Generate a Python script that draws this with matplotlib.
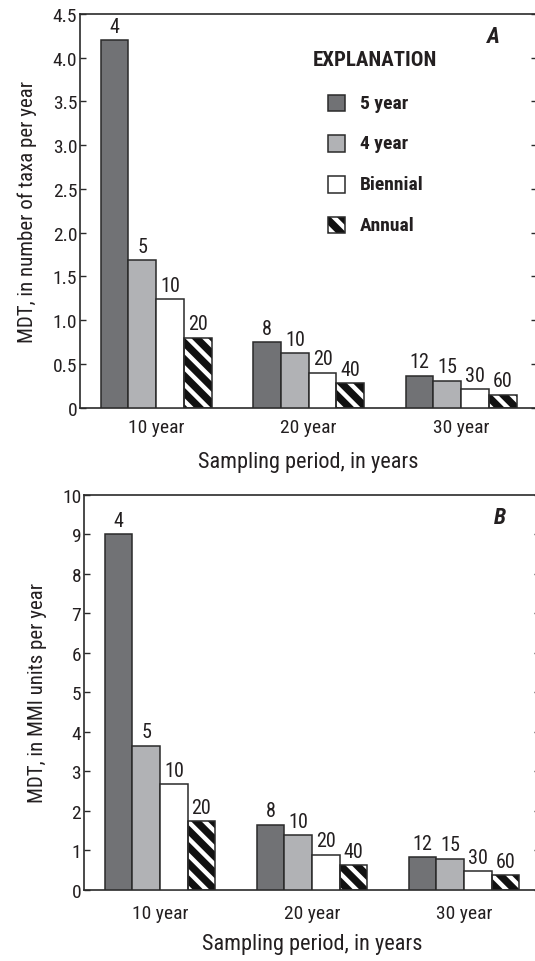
import matplotlib
matplotlib.use("Agg")
import matplotlib.pyplot as plt
from matplotlib import font_manager
from matplotlib.patches import Rectangle
import numpy as np

# ---- data -------------------------------------------------------------
periods = ["10 year", "20 year", "30 year"]
designs = ["5 year", "4 year", "Biennial", "Annual"]

# MDT, number of taxa per year (panel A)
taxa_5yr = [4.20, 0.754, 0.366]
taxa_4yr = [1.69, 0.625, 0.309]
taxa_bien = [1.24, 0.40, 0.21]
taxa_annual = [0.80, 0.279, 0.149]

# MDT, MMI units per year (panel B)
mmi_5yr = [9.0, 1.65, 0.83]
mmi_4yr = [3.65, 1.38, 0.79]
mmi_bien = [2.68, 0.89, 0.48]
mmi_annual = [1.73, 0.63, 0.36]

# number of samples behind each bar
n_5yr = [4, 8, 12]
n_4yr = [5, 10, 15]
n_bien = [10, 20, 30]
n_annual = [20, 40, 60]

taxa_ticks = [0, 0.5, 1.0, 1.5, 2.0, 2.5, 3.0, 3.5, 4.0, 4.5]
taxa_ticklabels = ["0", "0.5", "1.0", "1.5", "2.0", "2.5", "3.0", "3.5", "4.0", "4.5"]
mmi_ticks = list(range(0, 11))

# ---- style ------------------------------------------------------------
def pick_font():
    names = {f.name for f in font_manager.fontManager.ttflist}
    for cand in ["Liberation Sans Narrow", "Roboto Condensed", "Open Sans Condensed",
                 "Liberation Sans", "DejaVu Sans"]:
        if cand in names:
            return cand
    return "DejaVu Sans"

FONT = pick_font()
plt.rcParams["font.family"] = [FONT, "DejaVu Sans"]
plt.rcParams["hatch.linewidth"] = 3.2

INK = "#231f20"
EDGE = "#2a2a2a"
face = ["#717275", "#b1b2b5", "#ffffff", "#111111"]
hatches = [None, None, None, "\\\\"]

fig = plt.figure(figsize=(5.35, 9.62), dpi=100)
ax_a = fig.add_axes([0.1495, 0.5752, 0.8551, 0.4093])
ax_b = fig.add_axes([0.1570, 0.0741, 0.8523, 0.4106])

width = 0.182
offsets = (np.arange(4) - 1.5) * width
x = np.arange(len(periods))


def draw_bars(ax, series, counts):
    for i, (vals, cnt) in enumerate(zip(series, counts)):
        xs = x + offsets[i]
        if hatches[i]:
            ax.bar(xs, vals, width, facecolor=face[i], edgecolor="white",
                   hatch=hatches[i], linewidth=0, zorder=2)
            ax.bar(xs, vals, width, facecolor="none", edgecolor=EDGE,
                   linewidth=1.1, zorder=3)
        else:
            ax.bar(xs, vals, width, facecolor=face[i], edgecolor=EDGE,
                   linewidth=1.1, zorder=3)
        for xi, v, c in zip(xs, vals, cnt):
            ax.annotate(str(c), (xi, v), xytext=(0, 3), textcoords="offset points",
                        ha="center", va="bottom", fontsize=14.5, color=INK)


def style_axis(ax, ylabel, ylim, tick_pad, xlabel_pad):
    ax.set_xlim(-0.5, 2.5)
    ax.set_ylim(*ylim)
    ax.set_xticks(x)
    ax.set_xticklabels(periods, fontsize=14, color=INK)
    ax.tick_params(axis="x", length=0, pad=tick_pad)
    ax.tick_params(axis="y", direction="in", length=4.5, width=1.0, colors=EDGE,
                   labelcolor=INK, labelsize=14, pad=2, right=True)
    for s in ax.spines.values():
        s.set_color(EDGE)
        s.set_linewidth(1.2)
    ax.set_xlabel("Sampling period, in years", fontsize=16, color=INK,
                  labelpad=xlabel_pad)
    ax.set_ylabel(ylabel, fontsize=15, color=INK, labelpad=11)


draw_bars(ax_a, [taxa_5yr, taxa_4yr, taxa_bien, taxa_annual],
          [n_5yr, n_4yr, n_bien, n_annual])
style_axis(ax_a, "MDT, in number of taxa per year", (0, 4.5), 7.5, 11)
ax_a.set_yticks(taxa_ticks)
ax_a.set_yticklabels(taxa_ticklabels)

draw_bars(ax_b, [mmi_5yr, mmi_4yr, mmi_bien, mmi_annual],
          [n_5yr, n_4yr, n_bien, n_annual])
style_axis(ax_b, "MDT, in MMI units per year", (0, 10), 10.5, 7.5)
ax_b.set_yticks(mmi_ticks)
ax_b.set_yticklabels([str(t) for t in mmi_ticks])

# panel letters
ax_a.text(0.904, 0.945, "A", transform=ax_a.transAxes, fontsize=16,
          fontweight="bold", fontstyle="italic", ha="center", va="center", color=INK)
ax_b.text(0.912, 0.9435, "B", transform=ax_b.transAxes, fontsize=16,
          fontweight="bold", fontstyle="italic", ha="center", va="center", color=INK)

# explanation (legend) in panel A
ax_a.text(0.509, 0.883, "EXPLANATION", transform=ax_a.transAxes, fontsize=15,
          fontweight="bold", ha="left", va="center", color=INK)
rows_y = [0.7740, 0.6710, 0.5670, 0.4641]
pw, ph = 0.0383, 0.0419
for i, (lab, yc) in enumerate(zip(designs, rows_y)):
    if hatches[i]:
        ax_a.add_patch(Rectangle((0.542, yc - ph / 2), pw, ph, transform=ax_a.transAxes,
                                 facecolor=face[i], edgecolor="white", hatch=hatches[i],
                                 linewidth=0, zorder=4))
        ax_a.add_patch(Rectangle((0.542, yc - ph / 2), pw, ph, transform=ax_a.transAxes,
                                 facecolor="none", edgecolor=EDGE, linewidth=1.1, zorder=5))
    else:
        ax_a.add_patch(Rectangle((0.542, yc - ph / 2), pw, ph, transform=ax_a.transAxes,
                                 facecolor=face[i], edgecolor=EDGE, linewidth=1.1, zorder=5))
    ax_a.text(0.612, yc, lab, transform=ax_a.transAxes, fontsize=14, fontweight="bold",
              ha="left", va="center", color=INK)

fig.savefig("out.png", dpi=100)
